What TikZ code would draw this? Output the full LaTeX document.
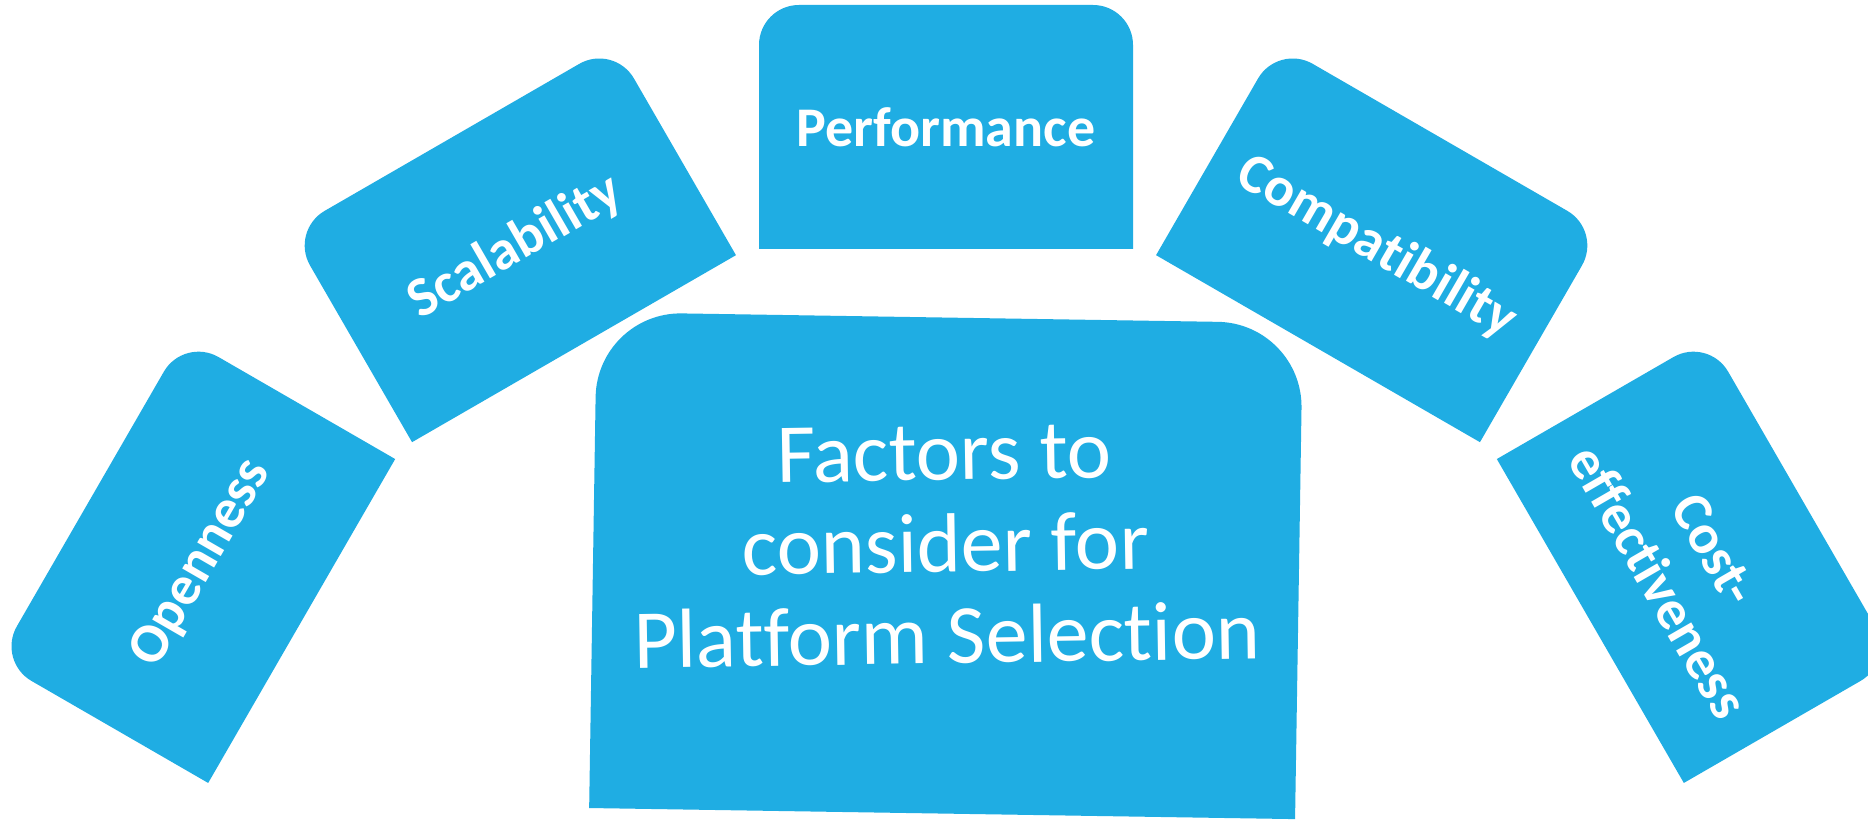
\documentclass[tikz,border=0pt]{standalone}
\usepackage{fontspec}
\setmainfont{Carlito}[Ligatures=NoCommon]
\definecolor{boxblue}{HTML}{1FADE3}
\newcommand{\factorshape}{\fill[boxblue] (-187,-122) -- (-187,82) arc[start angle=180,end angle=90,radius=40pt] -- (147,122) arc[start angle=90,end angle=0,radius=40pt] -- (187,-122) -- cycle;}
\begin{document}
\begin{tikzpicture}[x=1pt,y=1pt,
  factortext/.style={text=white, font=\fontsize{56}{61}\selectfont\bfseries, inner sep=0pt, anchor=base, transform shape},
  maintext/.style={text=white, font=\fontsize{84}{92}\selectfont, inner sep=0pt, anchor=base, transform shape}]
\useasboundingbox (0,0) rectangle (1868,819);
\clip (0,0) rectangle (1868,819);
\fill[white] (0,0) rectangle (1868,819);
% central box
\begin{scope}[shift={(946,253.4)}, rotate=-0.9]
  \fill[boxblue] (-353,-248) -- (-353,163) arc[start angle=180,end angle=90,radius=85pt] -- (268,248) arc[start angle=90,end angle=0,radius=85pt] -- (353,-248) -- cycle;
\end{scope}
\begin{scope}[shift={(946,247)}, rotate=0.9]
  \node[maintext] (line1) at (0,92) {Factors to};
  \node[maintext] (line2) at (0,0) {consider for};
  \node[maintext] (line3) at (0,-91.5) {Platform Selection};
\end{scope}
% factor boxes on an arc
\begin{scope}[shift={(946,-174)}]
  \begin{scope}[shift={(90:866)}]
    \factorshape
    \node[factortext] (perf) at (0,-20) {Performance};
  \end{scope}
  \begin{scope}[shift={(120:866)}, rotate=30]
    \factorshape
    \node[factortext] (scal) at (0,-20) {Scalability};
  \end{scope}
  \begin{scope}[shift={(150:866)}, rotate=60]
    \factorshape
    \node[factortext] (open) at (0,-20) {Openness};
  \end{scope}
  \begin{scope}[shift={(60:866)}, rotate=-30]
    \factorshape
    \node[factortext] (comp) at (0,-20) {Compatibility};
  \end{scope}
  \begin{scope}[shift={(30:866)}, rotate=-60]
    \factorshape
    \node[factortext] (cost1) at (0,3) {Cost-};
    \node[factortext] (cost2) at (0,-62) {effectiveness};
  \end{scope}
\end{scope}
\end{tikzpicture}
\end{document}
